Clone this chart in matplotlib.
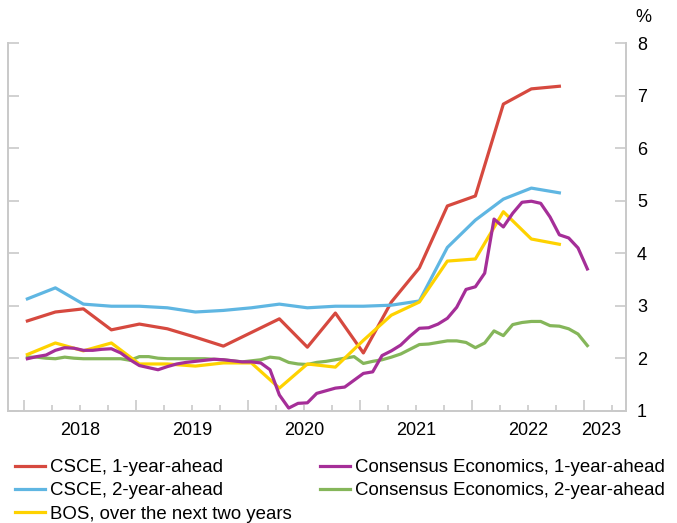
import matplotlib
matplotlib.use('Agg')
import matplotlib.pyplot as plt
import numpy as np

plt.rcParams['font.family'] = ['Liberation Sans', 'DejaVu Sans']

# quarterly surveys (CSCE, BOS)
csce_1y = [2.71, 2.88, 2.94, 2.54, 2.65, 2.56, 2.40, 2.23, 2.49, 2.75,
           2.21, 2.86, 2.10, 3.07, 3.72, 4.90, 5.09, 6.84, 7.13, 7.18]
csce_2y = [3.13, 3.34, 3.03, 2.99, 2.99, 2.96, 2.88, 2.91, 2.96, 3.03,
           2.96, 2.99, 2.99, 3.01, 3.09, 4.11, 4.63, 5.03, 5.24, 5.15]
bos_2y = [2.07, 2.29, 2.14, 2.29, 1.89, 1.89, 1.85, 1.91, 1.91, 1.43,
          1.89, 1.83, 2.34, 2.82, 3.07, 3.85, 3.89, 4.79, 4.27, 4.17]

# monthly Consensus Economics, Jan 2018 - Jan 2023
ce_1y = [1.99, 2.03, 2.06, 2.15, 2.20, 2.19, 2.15, 2.15, 2.17, 2.18,
         2.10, 1.97, 1.86, 1.82, 1.78, 1.84, 1.89, 1.92, 1.94, 1.96,
         1.98, 1.97, 1.95, 1.93, 1.93, 1.91, 1.78, 1.30, 1.05, 1.14,
         1.15, 1.33, 1.38, 1.43, 1.45, 1.58, 1.71, 1.74, 2.05, 2.14,
         2.25, 2.42, 2.57, 2.58, 2.65, 2.76, 2.97, 3.31, 3.36, 3.62,
         4.65, 4.50, 4.76, 4.97, 4.99, 4.95, 4.69, 4.35, 4.29, 4.10, 3.70]
ce_2y = [2.02, 2.02, 2.00, 1.99, 2.02, 2.00, 1.99, 1.99, 1.99, 1.99,
         1.99, 1.96, 2.03, 2.03, 2.00, 1.99, 1.99, 1.99, 1.99, 1.99,
         1.98, 1.97, 1.95, 1.93, 1.95, 1.97, 2.02, 2.00, 1.92, 1.89,
         1.88, 1.92, 1.94, 1.97, 2.00, 2.03, 1.90, 1.94, 1.97, 2.02,
         2.08, 2.17, 2.26, 2.27, 2.30, 2.33, 2.33, 2.30, 2.20, 2.29,
         2.52, 2.43, 2.64, 2.68, 2.70, 2.70, 2.62, 2.61, 2.56, 2.46, 2.24]

years = [2018, 2019, 2020, 2021, 2022, 2023]
q_x = 2018.03 + 0.25 * np.arange(len(csce_1y))
m_x = 2018.03 + np.arange(len(ce_1y)) / 12.0

red = '#d6493f'
blue = '#5fb6e2'
yellow = '#fed200'
purple = '#a52e98'
green = '#85b65a'
grey = '#c9c9c9'

fig = plt.figure(figsize=(6.77, 5.23), dpi=100)
ax = fig.add_axes([8 / 677, 1 - 410.7 / 523, 618 / 677, 367.5 / 523])

lw = 2.3
l1, = ax.plot(q_x, csce_1y, color=red, lw=lw, label='CSCE, 1-year-ahead')
l2, = ax.plot(q_x, csce_2y, color=blue, lw=lw, label='CSCE, 2-year-ahead')
l4, = ax.plot(m_x, ce_2y, color=green, lw=lw, label='Consensus Economics, 2-year-ahead')
l3, = ax.plot(q_x, bos_2y, color=yellow, lw=lw, label='BOS, over the next two years')
l5, = ax.plot(m_x, ce_1y, color=purple, lw=lw, label='Consensus Economics, 1-year-ahead')

ax.set_xlim(2017.857, 2023.375)
ax.set_ylim(1, 8)
ax.set_yticks(range(1, 9))

for s in ['left', 'right', 'bottom']:
    ax.spines[s].set_color(grey)
    ax.spines[s].set_linewidth(1.4)
ax.spines['top'].set_visible(False)

ax.tick_params(axis='y', left=True, right=True, direction='in', length=8,
               width=1.2, color=grey, labelleft=False, labelright=True,
               labelsize=13, pad=8)
ax.set_xticks(years)
ax.set_xticks(np.arange(2018, 2023.4, 0.25), minor=True)
ax.tick_params(axis='x', which='major', direction='in', length=8, width=1.2,
               color=grey, labelbottom=False)
ax.tick_params(axis='x', which='minor', direction='in', length=4.3, width=1.2,
               color=grey)

label_pos = [y + 0.5 for y in years[:-1]] + [2023.15]
for yr, xp in zip(years, label_pos):
    ax.text(xp, -0.055, str(yr), transform=ax.get_xaxis_transform(),
            ha='center', va='center', fontsize=13)

ax.text(1.028, 1.07, '%', transform=ax.transAxes, ha='center', va='center',
        fontsize=13)

fig.legend(handles=[l1, l2, l3, l5, l4], loc='upper left',
           bbox_to_anchor=(15 / 677, 0.122), ncol=2, frameon=False,
           fontsize=13.4, handlelength=1.6, handletextpad=0.3,
           columnspacing=1.5, labelspacing=0.33, borderaxespad=0,
           borderpad=0)

fig.savefig('out.png', dpi=100)
